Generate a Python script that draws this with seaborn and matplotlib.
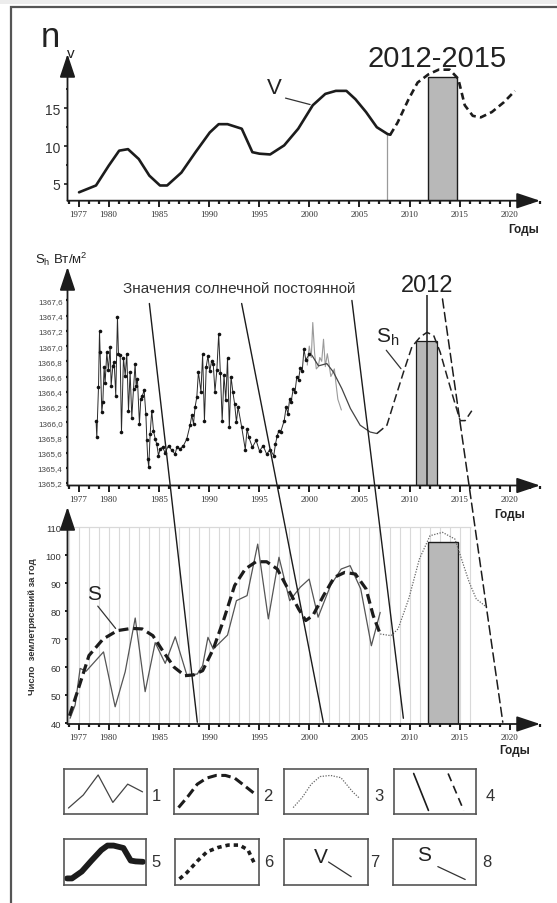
import numpy as np
import pandas as pd
import matplotlib
matplotlib.use("Agg")
import matplotlib.pyplot as plt
import seaborn as sns
from matplotlib.patches import ConnectionPatch, Rectangle
from matplotlib.ticker import MultipleLocator
from matplotlib import font_manager as fm

# ------------------------------------------------------------------ data
tick_years = [1977, 1980, 1985, 1990, 1995, 2000, 2005, 2010, 2015, 2020]
tick_labels = [str(y) for y in tick_years]

# Panel 1: n_v (curve V) observed and forecast
v_years = [1977.05, 1978.74, 1980.0, 1981.05, 1981.93, 1983.0, 1984.06, 1985.12, 1985.83,
           1987.25, 1988.66, 1990.08, 1990.97, 1991.85, 1993.27, 1994.33, 1995.04, 1996.1,
           1997.5, 1998.9, 2000.35, 2001.6, 2002.65, 2003.7, 2004.6, 2005.66, 2006.73,
           2007.8, 2008.07]
v_vals = [3.9, 4.8, 7.4, 9.4, 9.6, 8.3, 6.1, 4.8, 4.8,
          6.5, 9.2, 11.8, 12.9, 12.9, 12.3, 9.2, 9.0, 8.9,
          10.1, 12.3, 15.4, 16.9, 17.3, 17.3, 16.2, 14.5, 12.5,
          11.6, 11.5]
v_fc_years = [2008.07, 2008.8, 2009.9, 2010.8, 2011.9, 2012.9, 2014.0, 2014.85, 2015.5,
              2016.3, 2017.1, 2018.2, 2019.4, 2020.5]
v_fc_vals = [11.5, 13.1, 16.2, 18.4, 19.5, 20.1, 20.1, 18.9, 15.4,
             14.0, 13.8, 14.5, 15.8, 17.3]
v_mark_year, v_mark_val = 2007.7, 11.6
v_bar_start, v_bar_end, v_bar_top = 2011.8, 2014.7, 19.1
v_yticks = [5, 10, 15]

# Panel 2: solar constant S_h
sh_years = [1978.75, 1978.82, 1978.99, 1979.09, 1979.15, 1979.32, 1979.42, 1979.55, 1979.65,
            1979.82, 1979.98, 1980.15, 1980.25, 1980.42, 1980.55, 1980.71, 1980.88, 1980.98,
            1981.15, 1981.28, 1981.48, 1981.65, 1981.81, 1981.98, 1982.14, 1982.31, 1982.48,
            1982.64, 1982.74, 1982.87, 1983.07, 1983.21, 1983.37, 1983.54, 1983.71, 1983.81,
            1983.9, 1984.0, 1984.14, 1984.3, 1984.47, 1984.64, 1984.8, 1984.97, 1985.13,
            1985.37, 1985.63, 1985.97, 1986.3, 1986.63, 1986.8, 1987.13, 1987.46, 1987.79,
            1988.12, 1988.29, 1988.46, 1988.62, 1988.79, 1988.95,
            1989.2, 1989.37, 1989.55, 1989.73, 1989.9, 1990.08, 1990.26, 1990.43, 1990.6,
            1990.79, 1990.97, 1991.14, 1991.32, 1991.5, 1991.68, 1991.85, 1992.03, 1992.2,
            1992.38, 1992.56, 1992.74, 1992.9, 1993.27, 1993.62, 1993.8, 1993.98, 1994.33,
            1994.7, 1995.04, 1995.4, 1995.75, 1996.1, 1996.46, 1996.63, 1996.8, 1996.98,
            1997.15, 1997.5, 1997.7, 1997.87, 1998.05, 1998.2, 1998.4, 1998.58, 1998.76,
            1998.93, 1999.1, 1999.3, 1999.47, 1999.65, 2000.0]
sh_vals = [1366.01, 1365.80, 1366.46, 1367.20, 1366.92, 1366.13, 1366.26, 1366.72, 1366.52,
           1366.92, 1366.68, 1366.99, 1366.48, 1366.74, 1366.79, 1366.35, 1367.38, 1366.90,
           1366.88, 1365.87, 1366.85, 1366.61, 1366.90, 1366.15, 1366.66, 1366.06, 1366.44,
           1366.77, 1366.48, 1366.57, 1365.98, 1366.31, 1366.35, 1366.42, 1366.11, 1365.76,
           1365.52, 1365.41, 1365.85, 1366.15, 1365.89, 1365.78, 1365.71, 1365.56, 1365.65,
           1365.67, 1365.60, 1365.69, 1365.63, 1365.58, 1365.67, 1365.65, 1365.69, 1365.78,
           1365.96, 1366.09, 1365.98, 1366.20, 1366.33, 1366.66,
           1366.40, 1366.89, 1366.02, 1366.73, 1366.87, 1366.67, 1366.80, 1366.76, 1366.40,
           1366.69, 1367.16, 1366.64, 1366.02, 1366.62, 1366.29, 1366.84, 1365.93, 1366.60,
           1366.40, 1366.24, 1366.00, 1366.20, 1365.93, 1365.64, 1365.91, 1365.80, 1365.67,
           1365.76, 1365.62, 1365.69, 1365.58, 1365.64, 1365.56, 1365.71, 1365.82, 1365.89,
           1365.87, 1366.02, 1366.20, 1366.11, 1366.31, 1366.27, 1366.44, 1366.40, 1366.60,
           1366.56, 1366.71, 1366.67, 1366.96, 1366.82, 1366.89]
sh_grey_years = [1999.8, 2000.0, 2000.2, 2000.35, 2000.53, 2000.7, 2000.9, 2001.05, 2001.24,
                 2001.42, 2001.6, 2001.8, 2001.95, 2002.15, 2002.3, 2002.5, 2002.66, 2002.85,
                 2003.0, 2003.2]
sh_grey_vals = [1366.75, 1367.0, 1366.85, 1367.31, 1366.91, 1366.7, 1366.73, 1366.85, 1366.80,
                1367.09, 1366.73, 1366.9, 1366.78, 1366.6, 1366.64, 1366.7, 1366.51, 1366.3,
                1366.24, 1366.16]
sh_fit_years = [2000.26, 2000.92, 2001.75, 2002.4, 2003.25, 2004.1, 2005.07, 2006.07, 2006.74]
sh_fit_vals = [1366.88, 1366.74, 1366.77, 1366.66, 1366.44, 1366.18, 1365.96, 1365.87, 1365.85]
sh_fc_years = [2006.74, 2007.74, 2008.56, 2009.4, 2010.23, 2011.06, 2011.73, 2012.4, 2013.05,
               2013.72, 2014.38, 2015.04, 2015.54, 2016.2]
sh_fc_vals = [1365.85, 1365.96, 1366.31, 1366.66, 1366.99, 1367.12, 1367.18, 1367.14, 1366.92,
              1366.61, 1366.31, 1366.02, 1366.02, 1366.15]
sh_bar_start, sh_bar_end, sh_bar_top = 2010.6, 2012.7, 1367.07
sh_mark_year, sh_mark_top = 2011.7, 1367.67
sh_yticks = [1365.2, 1365.4, 1365.6, 1365.8, 1366.0, 1366.2, 1366.4, 1366.6, 1366.8,
             1367.0, 1367.2, 1367.4, 1367.6]
sh_ytick_labels = ["1365,2", "1365,4", "1365,6", "1365,8", "1366,0", "1366,2", "1366,4",
                   "1366,6", "1366,8", "1367,0", "1367,2", "1367,4", "1367,6"]

# Panel 3: number of earthquakes per year, curve S and its forecast
eq_years = [1976.16, 1976.66, 1977.16, 1977.76, 1979.49, 1980.65, 1981.65, 1982.65, 1983.64,
            1984.64, 1985.64, 1986.64, 1987.8, 1988.84, 1989.37, 1989.9, 1990.43, 1991.85,
            1992.74, 1993.8, 1994.86, 1995.92, 1996.98, 1998.05, 1999.1, 1999.99, 2000.88,
            2002.12, 2003.18, 2004.07, 2005.13, 2006.19, 2007.07]
eq_vals = [41.8, 46.5, 59.6, 58.6, 65.5, 45.9, 58.4, 77.6, 51.3,
           68.8, 61.4, 70.9, 57.2, 57.6, 60.6, 70.7, 66.5, 71.5,
           83.8, 85.6, 104.0, 77.3, 99.3, 83.8, 88.6, 91.5, 77.9,
           89.2, 95.1, 96.3, 88.0, 67.7, 79.6]
s_years = [1976.1, 1976.98, 1978.04, 1979.45, 1980.87, 1982.29, 1983.35, 1984.41, 1985.48,
           1986.54, 1987.6, 1988.49, 1989.37, 1990.43, 1991.5, 1992.56, 1993.62, 1994.69,
           1995.75, 1996.81, 1997.88, 1998.94, 1999.65, 2000.36, 2001.42, 2002.48, 2003.54,
           2004.6, 2005.66, 2006.37, 2007.07]
s_vals = [42.7, 52.3, 64.2, 70.1, 73.1, 73.9, 73.7, 71.3, 65.4,
          60.0, 57.0, 57.3, 58.8, 66.5, 77.3, 89.2, 95.1, 97.7,
          97.7, 95.1, 88.0, 80.8, 76.7, 78.5, 85.6, 92.1, 93.9,
          93.3, 88.0, 78.5, 71.9]
s_fc_years = [2007.07, 2008.14, 2008.85, 2009.91, 2010.98, 2012.04, 2013.28, 2014.52, 2015.23,
              2015.94, 2016.65, 2017.71]
s_fc_vals = [71.9, 71.3, 73.7, 84.4, 98.7, 107.0, 108.2, 105.8, 98.1, 90.4, 84.4, 81.4]
eq_bar_start, eq_bar_end, eq_bar_top = 2011.86, 2014.87, 104.6
eq_yticks = [40, 50, 60, 70, 80, 90, 100, 110]
eq_grid_end = 2016.1

# Slanted lines linking the S_h panel to the earthquake panel (legend item 4)
slant_top_years = [1984.06, 1993.26, 2004.25, 2013.28]
slant_top_vals = [1367.56, 1367.56, 1367.60, 1367.62]
slant_bot_years = [1988.84, 2001.40, 2009.38, 2019.29]
slant_bot_vals = [40.4, 40.4, 41.8, 40.4]
slant_dashed = [False, False, False, True]

# ------------------------------------------------------------------ style
sns.set_theme(style="white")
avail = {f.name for f in fm.fontManager.ttflist}
SANS = "Liberation Sans" if "Liberation Sans" in avail else "DejaVu Sans"
NARROW = "Liberation Sans Narrow" if "Liberation Sans Narrow" in avail else None
SERIF = "Liberation Serif" if "Liberation Serif" in avail else "DejaVu Serif"
plt.rcParams["font.family"] = [SANS, "DejaVu Sans"]
plt.rcParams["mathtext.fontset"] = "custom"
plt.rcParams["mathtext.rm"] = SANS
plt.rcParams["mathtext.it"] = SANS
plt.rcParams["mathtext.bf"] = SANS + ":bold"

W, H = 557, 904
fig = plt.figure(figsize=(W / 100, H / 100), dpi=100)
fig.patch.set_facecolor("white")

INK = "#1c1c1c"
BARC = "#b8b8b8"


def frac_box(l, t, r, b):
    return [l / W, 1 - b / H, (r - l) / W, (b - t) / H]


def ftext(x, y, s, **kw):
    return fig.text(x / W, 1 - y / H, s, **kw)


XLIM = (1975.9, 2023.0)


def setup_axis(ax, ylim):
    ax.set_xlim(XLIM)
    ax.set_ylim(ylim)
    ax.set_facecolor("none")
    for s in ax.spines.values():
        s.set_visible(False)
    kw = dict(arrowstyle="-|>,head_length=0.9,head_width=0.3", color=INK, lw=1.3,
              shrinkA=0, shrinkB=0, mutation_scale=16)
    ax.annotate("", xy=(1, 0), xytext=(0, 0), xycoords="axes fraction",
                arrowprops=kw, annotation_clip=False)
    ax.annotate("", xy=(0, 1), xytext=(0, 0), xycoords="axes fraction",
                arrowprops=kw, annotation_clip=False)
    ax.set_xticks(tick_years)
    ax.set_xticklabels(tick_labels)
    ax.xaxis.set_minor_locator(MultipleLocator(1))
    ax.tick_params(axis="x", which="major", bottom=True, direction="out", length=4,
                   width=1.4, color=INK, pad=2.5, labelsize=6.5, labelcolor="#333333")
    ax.tick_params(axis="x", which="minor", bottom=True, direction="out", length=1.8,
                   width=1.6, color=INK)
    for lab in ax.get_xticklabels():
        lab.set_fontfamily(SERIF)


def line(ax, xs, ys, **kw):
    df = pd.DataFrame({"year": xs, "value": ys})
    sns.lineplot(data=df, x="year", y="value", ax=ax, estimator=None, sort=False, **kw)
    ax.set_xlabel("")
    ax.set_ylabel("")
    return ax.lines[-1]


# ------------------------------------------------------------------ frame
fig.add_artist(Rectangle((0, 1 - 5 / H), 1, 5 / H, transform=fig.transFigure,
                         facecolor="#ececec", edgecolor="none", zorder=0))
fig.add_artist(Rectangle((11 / W, -0.05), 1.2, 1 - 8 / H + 0.05, transform=fig.transFigure,
                         fill=False, edgecolor="#555555", lw=1.6, zorder=1))

# ------------------------------------------------------------------ panel 1
ax1 = fig.add_axes(frac_box(67.5, 55, 540, 201.7))
setup_axis(ax1, (2.79, 22.17))
y0 = ax1.get_ylim()[0]
ax1.set_yticks(v_yticks)
ax1.set_yticklabels([str(v) for v in v_yticks])
ax1.yaxis.set_minor_locator(MultipleLocator(2.5))
ax1.tick_params(axis="y", which="major", left=True, direction="out", length=3, width=1.2,
                color=INK, pad=2, labelsize=10, labelcolor="#333333")
ax1.tick_params(axis="y", which="minor", left=True, direction="out", length=1.5, width=1.3,
                color=INK)
ax1.bar([v_bar_start], [v_bar_top - y0], bottom=y0, width=v_bar_end - v_bar_start,
        align="edge", color=BARC, edgecolor=INK, linewidth=1.0, zorder=2)
ax1.vlines(v_mark_year, y0, v_mark_val, color="#9a9a9a", lw=0.9, zorder=2)
line(ax1, v_years, v_vals, color=INK, lw=1.9, zorder=3)
l = line(ax1, v_fc_years, v_fc_vals, color=INK, lw=1.9, zorder=3)
l.set_dashes((2.6, 1.6))
ax1.annotate("V", xy=(v_years[20], v_vals[20]), xytext=(-22, 5), textcoords="offset points",
             fontsize=16, color="#222222", ha="right", va="bottom",
             arrowprops=dict(arrowstyle="-", color="#333333", lw=0.9, shrinkA=0, shrinkB=2,
                             relpos=(1.0, 0.05)))
ftext(41, 47, "n", fontsize=25, color="#222222", ha="left", va="baseline")
ftext(67, 58, "v", fontsize=11, color="#222222", ha="left", va="baseline")
if NARROW:
    ftext(437, 67, "2012-2015", fontsize=26, family=NARROW, color="#222222", ha="center",
          va="baseline")
else:
    ftext(437, 67, "2012-2015", fontsize=21, color="#222222", ha="center", va="baseline")
ftext(524, 230, "Годы", fontsize=8.5, fontweight="bold", color="#222222", ha="center",
      va="center")

# ------------------------------------------------------------------ panel 2
ax2 = fig.add_axes(frac_box(67.5, 268, 540, 486.5))
setup_axis(ax2, (1365.167, 1368.04))
y0 = ax2.get_ylim()[0]
ax2.set_yticks(sh_yticks)
ax2.set_yticklabels(sh_ytick_labels)
ax2.tick_params(axis="y", which="major", left=True, direction="out", length=1.5, width=1.6,
                color=INK, pad=2, labelsize=5.8, labelcolor="#444444")
ax2.bar([sh_bar_start], [sh_bar_top - y0], bottom=y0, width=sh_bar_end - sh_bar_start,
        align="edge", color=BARC, edgecolor=INK, linewidth=0.9, zorder=2)
ax2.vlines(sh_mark_year, y0, sh_mark_top, color=INK, lw=1.1, zorder=4)
line(ax2, sh_grey_years, sh_grey_vals, color="#9a9a9a", lw=0.8, zorder=3)
line(ax2, sh_years, sh_vals, color="#2a2a2a", lw=0.7, marker="o", markersize=2.6,
     markeredgewidth=0, markerfacecolor="#111111", zorder=3)
line(ax2, sh_fit_years, sh_fit_vals, color="#444444", lw=0.9, zorder=3)
l = line(ax2, sh_fc_years, sh_fc_vals, color="#222222", lw=1.1, zorder=3)
l.set_dashes((5.5, 2.6))
ax2.annotate(r"$\mathregular{S_h}$", xy=(sh_fc_years[3], sh_fc_vals[3]), xytext=(-20, 18),
             textcoords="offset points", fontsize=15, color="#222222", ha="left", va="bottom",
             arrowprops=dict(arrowstyle="-", color="#333333", lw=0.9, shrinkA=0, shrinkB=3,
                             relpos=(0.3, 0.05)))
ftext(35, 264, r"$\mathregular{S_h}$ Вт/м$\mathregular{^2}$", fontsize=9.5, color="#222222",
      ha="left", va="baseline")
ftext(122.6, 293, "Значения солнечной постоянной", fontsize=11, color="#333333",
      ha="left", va="baseline")
if NARROW:
    ftext(427, 292, "2012", fontsize=20.5, family=NARROW, color="#222222", ha="center",
          va="baseline")
else:
    ftext(427, 292, "2012", fontsize=17, color="#222222", ha="center", va="baseline")
ftext(510, 515, "Годы", fontsize=8.5, fontweight="bold", color="#222222", ha="center",
      va="center")

# ------------------------------------------------------------------ panel 3
ax3 = fig.add_axes(frac_box(67.5, 508, 540, 725))
setup_axis(ax3, (39.75, 117.25))
y0 = ax3.get_ylim()[0]
ax3.set_yticks(eq_yticks)
ax3.set_yticklabels([str(v) for v in eq_yticks])
ax3.tick_params(axis="y", which="major", left=True, direction="out", length=2, width=1.4,
                color=INK, pad=2.5, labelsize=6.8, labelcolor="#333333")
grid_years = np.arange(1976, int(eq_grid_end) + 1)
ax3.vlines(grid_years, eq_yticks[0], eq_yticks[-1], color="#d9d9d9", lw=0.8, zorder=0)
ax3.hlines(eq_yticks[-1], XLIM[0], eq_grid_end, color="#d9d9d9", lw=0.9, zorder=0)
ax3.bar([eq_bar_start], [eq_bar_top - y0], bottom=y0, width=eq_bar_end - eq_bar_start,
        align="edge", color=BARC, edgecolor=INK, linewidth=1.0, zorder=2)
line(ax3, eq_years, eq_vals, color="#555555", lw=0.9, zorder=3)
l = line(ax3, s_years, s_vals, color=INK, lw=2.3, zorder=4)
l.set_dashes((3.1, 1.5))
l = line(ax3, s_fc_years, s_fc_vals, color="#666666", lw=0.9, zorder=4)
l.set_dashes((1.0, 1.2))
ax3.annotate("S", xy=(s_years[4], s_vals[4]), xytext=(-17, 20), textcoords="offset points",
             fontsize=15, color="#222222", ha="center", va="bottom",
             arrowprops=dict(arrowstyle="-", color="#333333", lw=0.9, shrinkA=0, shrinkB=2,
                             relpos=(0.6, 0.0)))
ftext(33, 627, "Число  землетрясений за год", fontsize=6.8, fontweight="bold",
      color="#333333", rotation=90, ha="center", va="center")
ftext(515, 751, "Годы", fontsize=8.5, fontweight="bold", color="#222222", ha="center",
      va="center")

# slanted connector lines
for xa, ya, xb, yb, dsh in zip(slant_top_years, slant_top_vals, slant_bot_years,
                               slant_bot_vals, slant_dashed):
    con = ConnectionPatch(xyA=(xa, ya), coordsA=ax2.transData, xyB=(xb, yb),
                          coordsB=ax3.transData, color=INK, lw=1.1 if dsh else 1.0,
                          zorder=6)
    if dsh:
        con.set_linestyle((0, (6, 3)))
    fig.add_artist(con)

# ------------------------------------------------------------------ legend boxes
def icon_ax(l, t, r, b):
    a = fig.add_axes(frac_box(l, t, r, b))
    a.set_xticks([])
    a.set_yticks([])
    a.set_facecolor("white")
    for s in a.spines.values():
        s.set_visible(True)
        s.set_color("#555555")
        s.set_linewidth(1.2)
    return a


boxes = [(64, 770, 147, 815), (174, 770, 258, 815), (284, 770, 368, 815), (394, 770, 476, 815),
         (64, 840, 146, 886), (175, 840, 259, 886), (284, 840, 368, 886), (393, 840, 476, 886)]
num_pos = [(156, 797), (268, 797), (379, 797), (490, 797),
           (156, 863), (269, 863), (375, 863), (487, 863)]
axs = [icon_ax(*b) for b in boxes]
for i, (x, y) in enumerate(num_pos):
    ftext(x, y, str(i + 1), fontsize=12, color="#333333", ha="center", va="center")


def sel(xs, ys, lo, hi):
    return ([x for x in xs if lo <= x <= hi], [v for x, v in zip(xs, ys) if lo <= x <= hi])


a = axs[0]
xs, ys = sel(eq_years, eq_vals, 1980.6, 1985.7)
line(a, xs, ys, color="#444444", lw=0.9)
a.margins(x=0.06, y=0.18)

a = axs[1]
xs, ys = sel(s_years, s_vals, 1990.4, 1999.0)
l = line(a, xs, ys, color=INK, lw=2.2)
l.set_dashes((3.1, 1.5))
a.margins(x=0.06, y=0.2)

a = axs[2]
xs, ys = sel(s_fc_years, s_fc_vals, 2008.8, 2016.7)
l = line(a, xs, ys, color="#666666", lw=0.9)
l.set_dashes((1.0, 1.2))
a.margins(x=0.14, y=0.2)

a = axs[3]
a.plot([0.24, 0.42], [0.9, 0.08], transform=a.transAxes, color=INK, lw=1.2)
a.plot([0.66, 0.85], [0.9, 0.08], transform=a.transAxes, color=INK, lw=1.2,
       dashes=(5, 3))

a = axs[4]
xs, ys = sel(v_years, v_vals, 1985.1, 1996.2)
line(a, xs, ys, color=INK, lw=4.2)
a.margins(x=0.04, y=0.2)

a = axs[5]
xs, ys = sel(v_fc_years, v_fc_vals, 2008.0, 2015.6)
l = line(a, xs, ys, color=INK, lw=2.6)
l.set_dashes((1.2, 1.1))
a.margins(x=0.06, y=0.18)

a = axs[6]
a.text(0.44, 0.42, "V", transform=a.transAxes, fontsize=15, color="#222222", ha="center",
       va="bottom")
a.plot([0.53, 0.8], [0.5, 0.18], transform=a.transAxes, color="#333333", lw=0.9)

a = axs[7]
a.text(0.37, 0.45, "S", transform=a.transAxes, fontsize=15, color="#222222", ha="center",
       va="bottom")
a.plot([0.54, 0.87], [0.4, 0.12], transform=a.transAxes, color="#333333", lw=0.9)

fig.savefig("out.png", dpi=100)
